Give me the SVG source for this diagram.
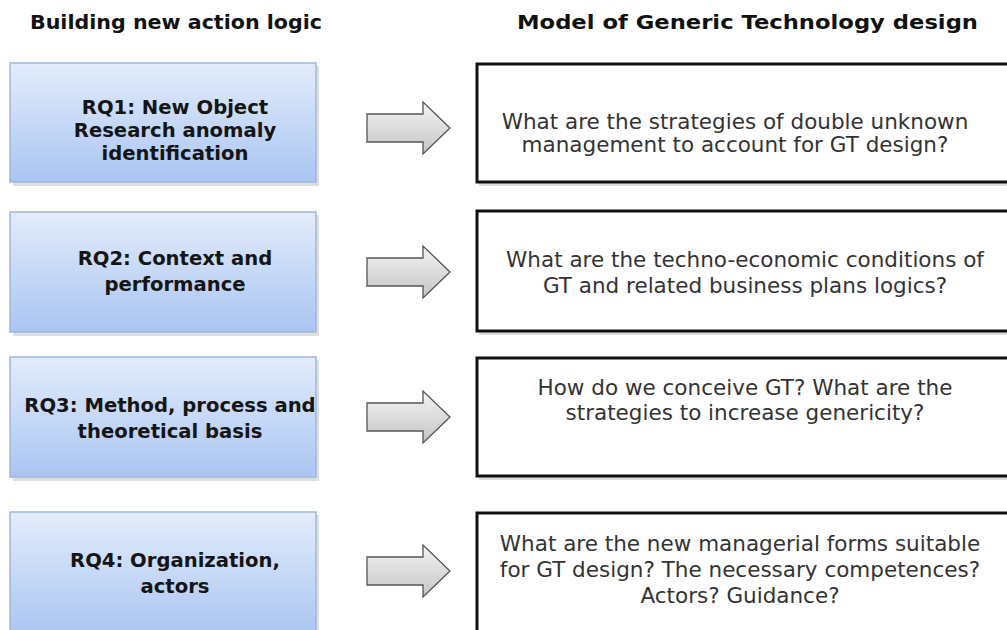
<svg xmlns="http://www.w3.org/2000/svg" width="1007" height="630" viewBox="0 0 1007 630">
<defs>
  <linearGradient id="blueGrad" x1="0" y1="0" x2="0" y2="1">
    <stop offset="0" stop-color="#e3ecfb"/>
    <stop offset="1" stop-color="#a9c5f2"/>
  </linearGradient>
  <linearGradient id="arrowGrad" x1="0" y1="0" x2="0" y2="1">
    <stop offset="0" stop-color="#f4f4f4"/>
    <stop offset="1" stop-color="#c4c4c4"/>
  </linearGradient>
  <path id="arrowShape" d="M0,-14 L56,-14 L56,-26 L83,0 L56,26 L56,14 L0,14 Z"/>
</defs>
<style>
  .hdr { font-family: "DejaVu Sans", "Liberation Sans", sans-serif; font-weight: bold; font-size: 20px; fill: #111; }
  .lbox { fill: url(#blueGrad); stroke: #9db8e0; stroke-width: 1.5; }
  .lshadow { fill: #c9c9c9; opacity: 0.6; }
  .ltxt { font-family: "DejaVu Sans", "Liberation Sans", sans-serif; font-weight: bold; font-size: 19.6px; fill: #151515; text-anchor: middle; }
  .rbox { fill: #ffffff; stroke: #111; stroke-width: 3; }
  .rshadow { fill: #dcdcdc; }
  .rtxt { font-family: "DejaVu Sans", "Liberation Sans", sans-serif; font-size: 21.5px; fill: #333; text-anchor: middle; }
  .arrow { fill: url(#arrowGrad); stroke: #555; stroke-width: 1.3; stroke-linejoin: miter; }
</style>
<rect width="1007" height="630" fill="#ffffff"/>

<text class="hdr" x="30" y="29" textLength="292" lengthAdjust="spacingAndGlyphs">Building new action logic</text>
<text class="hdr" x="517" y="29" textLength="461" lengthAdjust="spacingAndGlyphs">Model of Generic Technology design</text>

<g id="rq1">
  <rect class="lshadow" x="13" y="66" width="306" height="120"/>
  <rect class="lbox" x="10" y="63" width="306" height="119"/>
  <text class="ltxt" x="175" y="114">RQ1: New Object</text>
  <text class="ltxt" x="175" y="137">Research anomaly</text>
  <text class="ltxt" x="175" y="160">identification</text>
</g>
<g id="rq2">
  <rect class="lshadow" x="13" y="215" width="306" height="121"/>
  <rect class="lbox" x="10" y="212" width="306" height="120"/>
  <text class="ltxt" x="175" y="265">RQ2: Context and</text>
  <text class="ltxt" x="175" y="291">performance</text>
</g>
<g id="rq3">
  <rect class="lshadow" x="13" y="360" width="306" height="121"/>
  <rect class="lbox" x="10" y="357" width="306" height="120"/>
  <text class="ltxt" x="170" y="412">RQ3: Method, process and</text>
  <text class="ltxt" x="170" y="438">theoretical basis</text>
</g>
<g id="rq4">
  <rect class="lshadow" x="13" y="515" width="306" height="120"/>
  <rect class="lbox" x="10" y="512" width="306" height="125"/>
  <text class="ltxt" x="175" y="567">RQ4: Organization,</text>
  <text class="ltxt" x="175" y="593">actors</text>
</g>

<g id="connectors">
  <use href="#arrowShape" class="arrow" transform="translate(367,128)"/>
  <use href="#arrowShape" class="arrow" transform="translate(367,272)"/>
  <use href="#arrowShape" class="arrow" transform="translate(367,417)"/>
  <use href="#arrowShape" class="arrow" transform="translate(367,571)"/>
</g>

<g id="q1">
  <rect class="rshadow" x="479" y="66" width="540" height="120"/>
  <rect class="rbox" x="477" y="64" width="540" height="118"/>
  <text class="rtxt" x="735" y="129">What are the strategies of double unknown</text>
  <text class="rtxt" x="735" y="152">management to account for GT design?</text>
</g>
<g id="q2">
  <rect class="rshadow" x="479" y="213" width="540" height="122"/>
  <rect class="rbox" x="477" y="211" width="540" height="120"/>
  <text class="rtxt" x="745" y="267">What are the techno-economic conditions of</text>
  <text class="rtxt" x="745" y="293">GT and related business plans logics?</text>
</g>
<g id="q3">
  <rect class="rshadow" x="479" y="360" width="540" height="120"/>
  <rect class="rbox" x="477" y="358" width="540" height="118"/>
  <text class="rtxt" x="745" y="395">How do we conceive GT? What are the</text>
  <text class="rtxt" x="745" y="420">strategies to increase genericity?</text>
</g>
<g id="q4">
  <rect class="rshadow" x="479" y="515" width="540" height="125"/>
  <rect class="rbox" x="477" y="513" width="540" height="125"/>
  <text class="rtxt" x="740" y="551">What are the new managerial forms suitable</text>
  <text class="rtxt" x="740" y="577">for GT design? The necessary competences?</text>
  <text class="rtxt" x="740" y="603">Actors? Guidance?</text>
</g>
</svg>
